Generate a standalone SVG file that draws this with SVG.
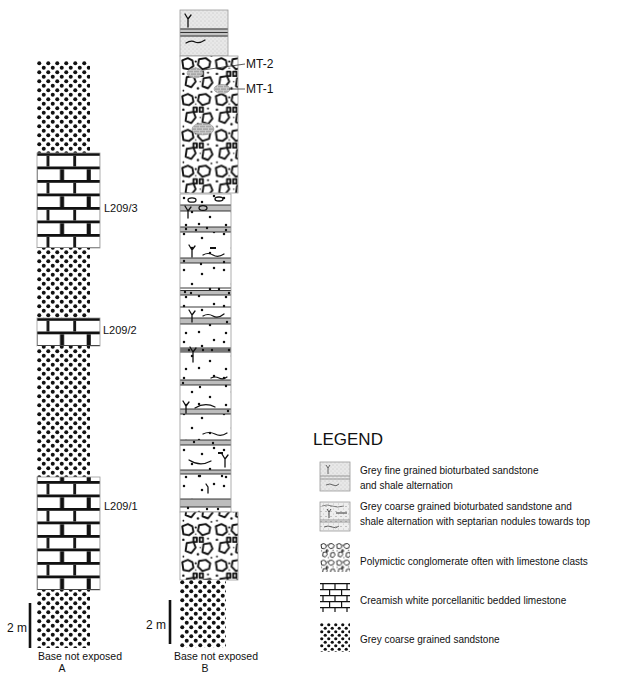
<svg xmlns="http://www.w3.org/2000/svg" width="622" height="673" viewBox="0 0 622 673">
<style>
text{font-family:"Liberation Sans",Arial,sans-serif;fill:#111}
.lbl{font-size:11px}
.cap{font-size:10.5px}
.leg{font-size:10px}
.box{fill:none;stroke:#999;stroke-width:0.8}
.bl{fill:#bdbdbd;stroke:none}
.ln{stroke:#222;stroke-width:0.9;fill:none}
.bio{stroke:#111;stroke-width:1.3;fill:none;stroke-linecap:round}
.wav{stroke:#111;stroke-width:1.2;fill:none;stroke-linecap:round}
.clast{fill:#fff;stroke:#111;stroke-width:1.7;stroke-linejoin:round}
.nod{fill:url(#minib);stroke:#888;stroke-width:0.5}
.bar{stroke:#111;stroke-width:2.6}
</style>
<defs>
<pattern id="sand" width="9" height="9" patternUnits="userSpaceOnUse" x="37" y="61">
<rect width="9" height="9" fill="#fff"/>
<circle cx="2.25" cy="2.25" r="2" fill="#111"/>
<circle cx="6.75" cy="6.75" r="2" fill="#111"/>
</pattern>
<pattern id="sandB" width="9" height="9" patternUnits="userSpaceOnUse" x="180" y="580">
<rect width="9" height="9" fill="#fff"/>
<circle cx="2.25" cy="2.25" r="2" fill="#111"/>
<circle cx="6.75" cy="6.75" r="2" fill="#111"/>
</pattern>
<pattern id="sandL" width="7" height="7" patternUnits="userSpaceOnUse" x="320" y="623">
<rect width="7" height="7" fill="#fff"/>
<circle cx="1.75" cy="1.75" r="1.6" fill="#111"/>
<circle cx="5.25" cy="5.25" r="1.6" fill="#111"/>
</pattern>
<pattern id="brick3" width="26.7" height="27" patternUnits="userSpaceOnUse" x="34.6" y="153">
<rect width="26.7" height="27" fill="#fff"/>
<rect x="0" y="0" width="26.7" height="2.8" fill="#111"/>
<rect x="0" y="13.5" width="26.7" height="2.8" fill="#111"/>
<rect x="12" y="2.8" width="2.8" height="10.7" fill="#111"/>
<rect x="0" y="16.3" width="2.8" height="10.7" fill="#111"/>
<rect x="25.4" y="16.3" width="2.8" height="10.7" fill="#111"/>
</pattern>
<pattern id="brick2" width="26.7" height="27" patternUnits="userSpaceOnUse" x="34.6" y="318">
<rect width="26.7" height="27" fill="#fff"/>
<rect x="0" y="0" width="26.7" height="2.8" fill="#111"/>
<rect x="0" y="13.5" width="26.7" height="2.8" fill="#111"/>
<rect x="12" y="2.8" width="2.8" height="10.7" fill="#111"/>
<rect x="0" y="16.3" width="2.8" height="10.7" fill="#111"/>
<rect x="25.4" y="16.3" width="2.8" height="10.7" fill="#111"/>
</pattern>
<pattern id="brick1" width="26.7" height="27" patternUnits="userSpaceOnUse" x="34.6" y="481">
<rect width="26.7" height="27" fill="#fff"/>
<rect x="0" y="0" width="26.7" height="2.8" fill="#111"/>
<rect x="0" y="13.5" width="26.7" height="2.8" fill="#111"/>
<rect x="12" y="2.8" width="2.8" height="10.7" fill="#111"/>
<rect x="0" y="16.3" width="2.8" height="10.7" fill="#111"/>
<rect x="25.4" y="16.3" width="2.8" height="10.7" fill="#111"/>
</pattern>
<pattern id="brickL" width="12" height="12" patternUnits="userSpaceOnUse" x="317" y="583">
<rect width="12" height="12" fill="#fff"/>
<path d="M0,0.6H12M0,6.6H12M6,0.6V6.6M0.6,6.6V12.6" stroke="#111" stroke-width="1.2" fill="none"/>
</pattern>
<pattern id="congl" width="30" height="32" patternUnits="userSpaceOnUse" patternTransform="translate(180,57) scale(1.12)">
<rect width="30" height="32" fill="#fff"/>
<path class="clast" d="M2,3 L7,1 L11,3 L12,8 L8,11 L3,10 Z"/>
<path class="clast" d="M17,2 L23,1 L27,4 L26,9 L20,11 L16,7 Z"/>
<rect class="clast" x="12" y="13" width="3" height="4" stroke-width="1.3"/>
<rect class="clast" x="17.5" y="13" width="3" height="4" stroke-width="1.3"/>
<path class="clast" d="M6,18 L12,17 L14,22 L10,27 L5,25 Z"/>
<path class="clast" d="M21,19 L27,18 L29,23 L25,28 L20,26 Z"/>
<g fill="#111">
<circle cx="14" cy="4" r="1"/>
<circle cx="3" cy="15" r="1.1"/>
<circle cx="25" cy="14" r="0.9"/>
<circle cx="16" cy="28" r="1.1"/>
<circle cx="3" cy="30" r="0.8"/>
<circle cx="28" cy="31" r="0.8"/>
<circle cx="14" cy="10" r="0.6"/>
<circle cx="18" cy="22" r="0.6"/>
</g>
</pattern>
<pattern id="conglL" width="30" height="32" patternUnits="userSpaceOnUse" patternTransform="translate(320,543) scale(0.52)">
<rect width="30" height="32" fill="#fff"/>
<path class="clast" d="M2,3 L7,1 L11,3 L12,8 L8,11 L3,10 Z" stroke="#555"/>
<path class="clast" d="M17,2 L23,1 L27,4 L26,9 L20,11 L16,7 Z" stroke="#555"/>
<rect class="clast" x="12" y="13" width="3" height="4" stroke="#555"/>
<path class="clast" d="M6,18 L12,17 L14,22 L10,27 L5,25 Z" stroke="#555"/>
<path class="clast" d="M21,19 L27,18 L29,23 L25,28 L20,26 Z" stroke="#555"/>
<g fill="#555"><circle cx="14" cy="4" r="1.2"/><circle cx="3" cy="15" r="1.2"/><circle cx="25" cy="14" r="1.2"/><circle cx="16" cy="28" r="1.2"/></g>
</pattern>
<pattern id="cdots" width="40" height="36" patternUnits="userSpaceOnUse" x="180" y="194">
<rect width="40" height="36" fill="#fff"/>
<g fill="#111">
<circle cx="4" cy="4" r="1.25"/>
<circle cx="22" cy="8" r="1.25"/>
<circle cx="34" cy="2" r="1.25"/>
<circle cx="12" cy="18" r="1.25"/>
<circle cx="30" cy="23" r="1.25"/>
<circle cx="6" cy="31" r="1.25"/>
<circle cx="19" cy="30" r="1.25"/>
</g>
</pattern>
<pattern id="fine" width="4" height="4" patternUnits="userSpaceOnUse">
<rect width="4" height="4" fill="#e8e8e8"/>
<circle cx="1" cy="1" r="0.45" fill="#999"/>
<circle cx="3" cy="3" r="0.4" fill="#b0b0b0"/>
</pattern>
<pattern id="coarse" width="5" height="5" patternUnits="userSpaceOnUse">
<rect width="5" height="5" fill="#eee"/>
<circle cx="1" cy="1.5" r="0.5" fill="#777"/>
<circle cx="3.5" cy="4" r="0.45" fill="#999"/>
</pattern>
<pattern id="minib" width="6" height="5" patternUnits="userSpaceOnUse">
<rect width="6" height="5" fill="#a8a8a8"/>
<path d="M0,0.3H6M0,2.8H6M1.5,0.3V2.8M4.5,2.8V5" stroke="#d8d8d8" stroke-width="0.7" fill="none"/>
</pattern>
</defs>
<rect width="622" height="673" fill="#fff"/>

<g id="column-A">
<g id="A-sandstone-top"><rect x="37" y="61" width="53" height="92" fill="url(#sand)"/></g>
<g id="A-L209-3"><rect x="37" y="153" width="63" height="95" fill="url(#brick3)"/><rect class="box" x="37" y="153" width="63" height="95"/><text class="lbl" x="104" y="212">L209/3</text></g>
<g id="A-sandstone-2"><rect x="37" y="248" width="53" height="70" fill="url(#sand)"/></g>
<g id="A-L209-2"><rect x="37" y="318" width="63" height="28" fill="url(#brick2)"/><rect class="box" x="37" y="318" width="63" height="28"/><text class="lbl" x="103" y="334">L209/2</text></g>
<g id="A-sandstone-3"><rect x="37" y="346" width="53" height="131" fill="url(#sand)"/></g>
<g id="A-L209-1"><rect x="37" y="477" width="63" height="113" fill="url(#brick1)"/><rect class="box" x="37" y="477" width="63" height="113"/><text class="lbl" x="104" y="510">L209/1</text></g>
<g id="A-sandstone-base"><rect x="37" y="590" width="53" height="58" fill="url(#sand)"/></g>
<g id="A-scale"><line class="bar" x1="30" y1="603" x2="30" y2="648"/><text x="27" y="632" font-size="12" text-anchor="end">2 m</text></g>
<g id="A-caption"><text class="cap" x="80" y="660" text-anchor="middle">Base not exposed</text><text class="cap" x="62" y="671.5" text-anchor="middle">A</text></g>
</g>

<g id="column-B">
<g id="B-fine-top">
<rect x="180" y="10" width="48" height="46" fill="url(#fine)"/>
<rect x="180" y="28.5" width="48" height="8" fill="#c4c4c4"/>
<path d="M180,29H228M180,32.5H228M180,36H228" stroke="#333" stroke-width="1.1"/>
<path class="bio" d="M188,27V19M188,19L185,14M188,19L191,15" stroke-width="1"/>
<path class="wav" d="M186,43 q5,-3 9,-1 t10,-2" stroke-width="0.9"/>
<rect class="box" x="180" y="10" width="48" height="46"/>
</g>
<g id="B-conglomerate-top">
<rect x="180" y="56" width="58" height="137" fill="url(#congl)"/>
<ellipse class="nod" cx="195" cy="73" rx="8" ry="5"/>
<ellipse class="nod" cx="222" cy="89" rx="8" ry="4.5"/>
<ellipse class="nod" cx="203" cy="129" rx="11" ry="6"/>
<rect class="box" x="180" y="56" width="58" height="137"/>
</g>
<g id="B-sandstone-shale">
<rect x="180" y="194" width="51" height="318" fill="url(#cdots)"/>
<rect class="bl" x="180" y="205" width="51" height="6"/>
<rect class="bl" x="180" y="227" width="51" height="5"/>
<rect class="bl" x="180" y="258" width="51" height="5"/>
<rect class="bl" x="180" y="290" width="51" height="5"/>
<rect class="bl" x="180" y="318" width="51" height="6"/>
<rect class="bl" x="180" y="348" width="51" height="4"/>
<rect class="bl" x="180" y="380" width="51" height="5"/>
<rect class="bl" x="180" y="409" width="51" height="5"/>
<rect class="bl" x="180" y="440" width="51" height="5"/>
<rect class="bl" x="180" y="470" width="51" height="4"/>
<rect class="bl" x="180" y="499" width="51" height="8"/>
<path class="ln" d="M180,205H231M180,211H231M180,227H231M180,232H231M180,258H231M180,263H231M180,288H231M180,290.5H231M180,295H231M180,307H231M180,318H231M180,324H231M180,348H231M180,350H231M180,352H231M180,380H231M180,385H231M180,409H231M180,414H231M180,440H231M180,445H231M180,470H231M180,474H231M180,499H231M180,507H231"/>
<g fill="#111">
<circle cx="186" cy="229" r="1.2"/><circle cx="196" cy="230" r="1.2"/><circle cx="207" cy="228" r="1.2"/><circle cx="226" cy="230" r="1.2"/>
<circle cx="184" cy="261" r="1.2"/><circle cx="201" cy="264" r="1.2"/><circle cx="224" cy="262" r="1.2"/>
<circle cx="185" cy="292" r="1.2"/><circle cx="191" cy="293" r="1.2"/><circle cx="219" cy="289" r="1.2"/><circle cx="229" cy="293" r="1.2"/>
<circle cx="227" cy="322" r="1.2"/><circle cx="189" cy="350" r="1.2"/><circle cx="203" cy="350" r="1.2"/><circle cx="212" cy="350" r="1.2"/><circle cx="229" cy="350" r="1.2"/>
<circle cx="183" cy="383" r="1.2"/><circle cx="200" cy="387" r="1.2"/><circle cx="226" cy="386" r="1.2"/>
<circle cx="228" cy="411" r="1.2"/><circle cx="194" cy="442" r="1.2"/><circle cx="213" cy="443" r="1.2"/>
<circle cx="200" cy="476" r="1.2"/><circle cx="222" cy="476" r="1.2"/><circle cx="188" cy="508" r="1.2"/><circle cx="207" cy="509" r="1.2"/><circle cx="218" cy="509" r="1.2"/>
</g>
<ellipse cx="192" cy="200" rx="4" ry="2.2" fill="none" stroke="#111" stroke-width="1.3"/>
<ellipse cx="219" cy="199" rx="4" ry="2" fill="none" stroke="#111" stroke-width="1.3"/>
<ellipse cx="203" cy="208" rx="4" ry="2.4" fill="none" stroke="#111" stroke-width="1.3"/>
<path class="bio" d="M188,218V211M188,211L185,206M188,211L191,207"/>
<path class="bio" d="M192,257V250M192,250L189,245M192,250L195,246"/>
<path class="bio" d="M192,322V315M192,315L189,310M192,315L195,311"/>
<path class="bio" d="M193,362V352M193,352L190,347M193,352L196,348"/>
<path class="bio" d="M186,413V406M186,406L183,401M186,406L189,402"/>
<path class="bio" d="M225,467V459M225,459L222,454M225,459L228,455"/>
<path class="bio" d="M208,493V487M208,487L206,484"/>
<path class="wav" d="M203,255 q5,-3 10,0 t11,-1"/>
<path class="wav" d="M203,316 q5,-3 10,0 t11,-2"/>
<path class="wav" d="M211,378 q4,-2 8,0 t8,-1"/>
<path class="wav" d="M195,408 q10,-6 20,-1"/>
<path class="wav" d="M203,434 q6,-3 12,0 t12,-1"/>
<path class="wav" d="M189,460 q11,7 22,1"/>
<path d="M210,248H216M218,453H223" stroke="#111" stroke-width="2"/>
<rect class="box" x="180" y="194" width="51" height="318"/>
</g>
<g id="B-conglomerate-lower">
<rect x="180" y="512" width="58" height="68" fill="url(#congl)"/>
<rect class="box" x="180" y="512" width="58" height="68"/>
</g>
<g id="B-sandstone-base"><rect x="180" y="580" width="46" height="68" fill="url(#sandB)"/></g>
<g id="B-labels">
<text x="246" y="68" font-size="12">MT-2</text>
<text x="246" y="93" font-size="12">MT-1</text>
</g>
<g id="B-scale"><line class="bar" x1="170" y1="600" x2="170" y2="644"/><text x="166" y="629" font-size="12" text-anchor="end">2 m</text></g>
<g id="B-caption"><text class="cap" x="216" y="660" text-anchor="middle">Base not exposed</text><text class="cap" x="205" y="671.5" text-anchor="middle">B</text></g>
</g>

<g id="connectors">
<line x1="203" y1="70" x2="245" y2="64" stroke="#333" stroke-width="0.8"/>
<line x1="229" y1="89" x2="245" y2="89" stroke="#333" stroke-width="0.8"/>
</g>

<g id="legend">
<text x="313" y="445" font-size="17">LEGEND</text>
<g id="leg-fine">
<rect x="320" y="462" width="30" height="29" fill="url(#fine)"/>
<path d="M320,476H350M320,479H350" stroke="#777" stroke-width="0.7"/>
<path d="M328,474V468M328,468L326,465M328,468L330,465" stroke="#444" stroke-width="0.8" fill="none"/>
<path d="M326,485 q4,-2 7,0 t6,-1" stroke="#444" stroke-width="0.8" fill="none"/>
<rect class="box" x="320" y="462" width="30" height="29"/>
<text class="leg" x="360" y="474">Grey fine grained bioturbated sandstone</text>
<text class="leg" x="360" y="489">and shale alternation</text>
</g>
<g id="leg-coarse">
<rect x="320" y="502" width="30" height="29" fill="url(#coarse)"/>
<path d="M322,506 q5,-2 10,0 t12,0" stroke="#555" stroke-width="0.7" fill="none"/>
<path d="M320,520H350M320,522H350" stroke="#777" stroke-width="0.7"/>
<path d="M329,518V512M329,512L327,509M329,512L331,509" stroke="#333" stroke-width="0.9" fill="none"/>
<path d="M336,513H347" stroke="#333" stroke-width="1"/>
<path d="M324,527 q4,-2 8,0 t7,-1" stroke="#444" stroke-width="0.8" fill="none"/>
<rect class="box" x="320" y="502" width="30" height="29"/>
<text class="leg" x="360" y="510">Grey coarse grained bioturbated sandstone and</text>
<text class="leg" x="360" y="525">shale alternation with septarian nodules towards top</text>
</g>
<g id="leg-congl">
<rect x="320" y="543" width="30" height="29" fill="url(#conglL)"/>
<text class="leg" x="360" y="565">Polymictic conglomerate often with limestone clasts</text>
</g>
<g id="leg-limestone">
<rect x="320" y="583" width="30" height="29" fill="url(#brickL)"/>
<text class="leg" x="360" y="604">Creamish white porcellanitic bedded limestone</text>
</g>
<g id="leg-sandstone">
<rect x="320" y="623" width="30" height="29" fill="url(#sandL)"/>
<text class="leg" x="360" y="643">Grey coarse grained sandstone</text>
</g>
</g>
</svg>
